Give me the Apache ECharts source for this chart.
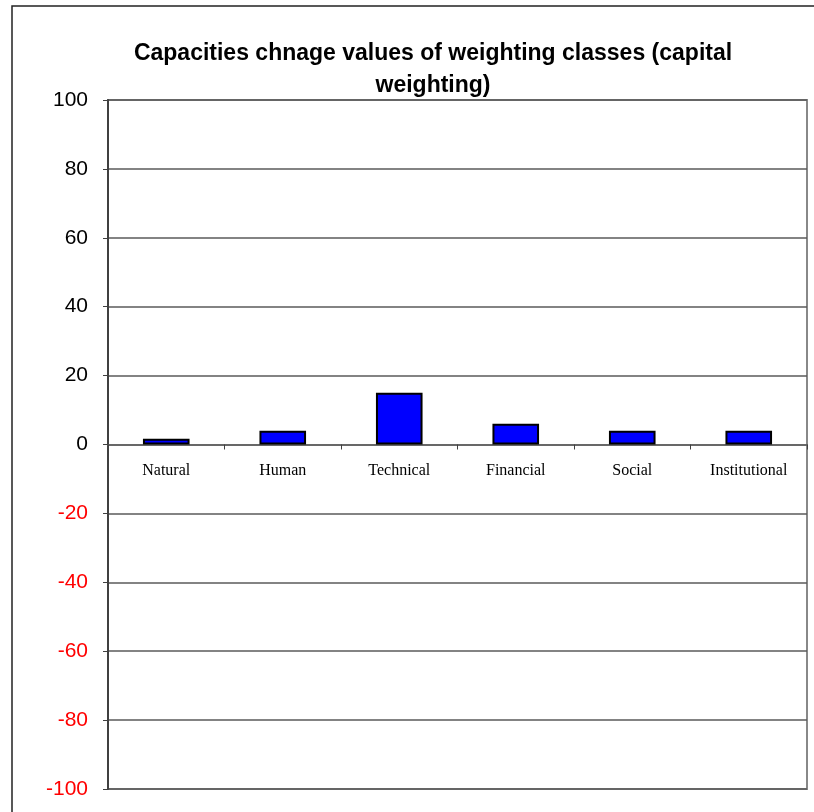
<!DOCTYPE html>
<html>
<head>
<meta charset="utf-8">
<script src="https://cdn.jsdelivr.net/npm/echarts@6/dist/echarts.min.js"></script>
<style>
html,body{margin:0;padding:0;background:#fff;}
#c{width:814px;height:812px;}
</style>
</head>
<body>
<div id="c"></div>
<script>
const categories = ["Natural", "Human", "Technical", "Financial", "Social", "Institutional"];
const values = [1.7, 4, 15, 6, 4, 4];
const titleText = "Capacities chnage values of weighting classes (capital\nweighting)";
const yMin = -100, yMax = 100, yStep = 20;

const chart = echarts.init(document.getElementById('c'), null, {renderer: 'canvas'});
const gridTop = 100, gridBottom = 23, H = 812;
const plotH = H - gridTop - gridBottom;
const zeroOffset = plotH * (0 - yMin) / (yMax - yMin);
chart.setOption({
  backgroundColor: '#fff',
  animation: false,
  title: {
    text: titleText,
    left: 428, top: 33, textAlign: 'center',
    textStyle: {fontFamily: 'Liberation Sans, Arial', fontWeight: 'bold', fontSize: 23, color: '#000', lineHeight: 32}
  },
  graphic: [{
    type: 'rect', shape: {x: 12, y: 6, width: 820, height: 820},
    style: {fill: 'none', stroke: '#222', lineWidth: 1.5}, z: -1
  }],
  grid: {left: 108, top: gridTop, right: 7, bottom: gridBottom, outerBoundsMode: 'none', containLabel: false,
         show: true, borderColor: '#888888', borderWidth: 2, backgroundColor: 'transparent'},
  xAxis: {
    type: 'category', data: categories, position: 'bottom',
    offset: -zeroOffset,
    axisLine: {onZero: false, lineStyle: {color: '#606060', width: 1.5}},
    axisTick: {show: true, inside: false, length: 5, lineStyle: {color: '#404040'}},
    axisLabel: {margin: 18, fontFamily: 'Liberation Serif, Times New Roman', fontSize: 16, color: '#000'}
  },
  yAxis: {
    type: 'value', min: yMin, max: yMax, interval: yStep,
    axisLine: {show: true, lineStyle: {color: '#404040', width: 2}},
    axisTick: {show: true, inside: false, length: 5, lineStyle: {color: '#404040'}},
    splitLine: {show: true, lineStyle: {color: '#5a5a5a', width: 1.5}},
    axisLabel: {
      margin: 20, fontFamily: 'Liberation Sans, Arial', fontSize: 21,
      padding: [0, 0, 4, 0],
      color: function (v) { return v < 0 ? '#ff0000' : '#000'; }
    }
  },
  series: [{
    type: 'bar', data: values, barWidth: '40%',
    itemStyle: {color: '#0000ff', borderColor: '#000', borderWidth: 2}
  }]
});
</script>
</body>
</html>
